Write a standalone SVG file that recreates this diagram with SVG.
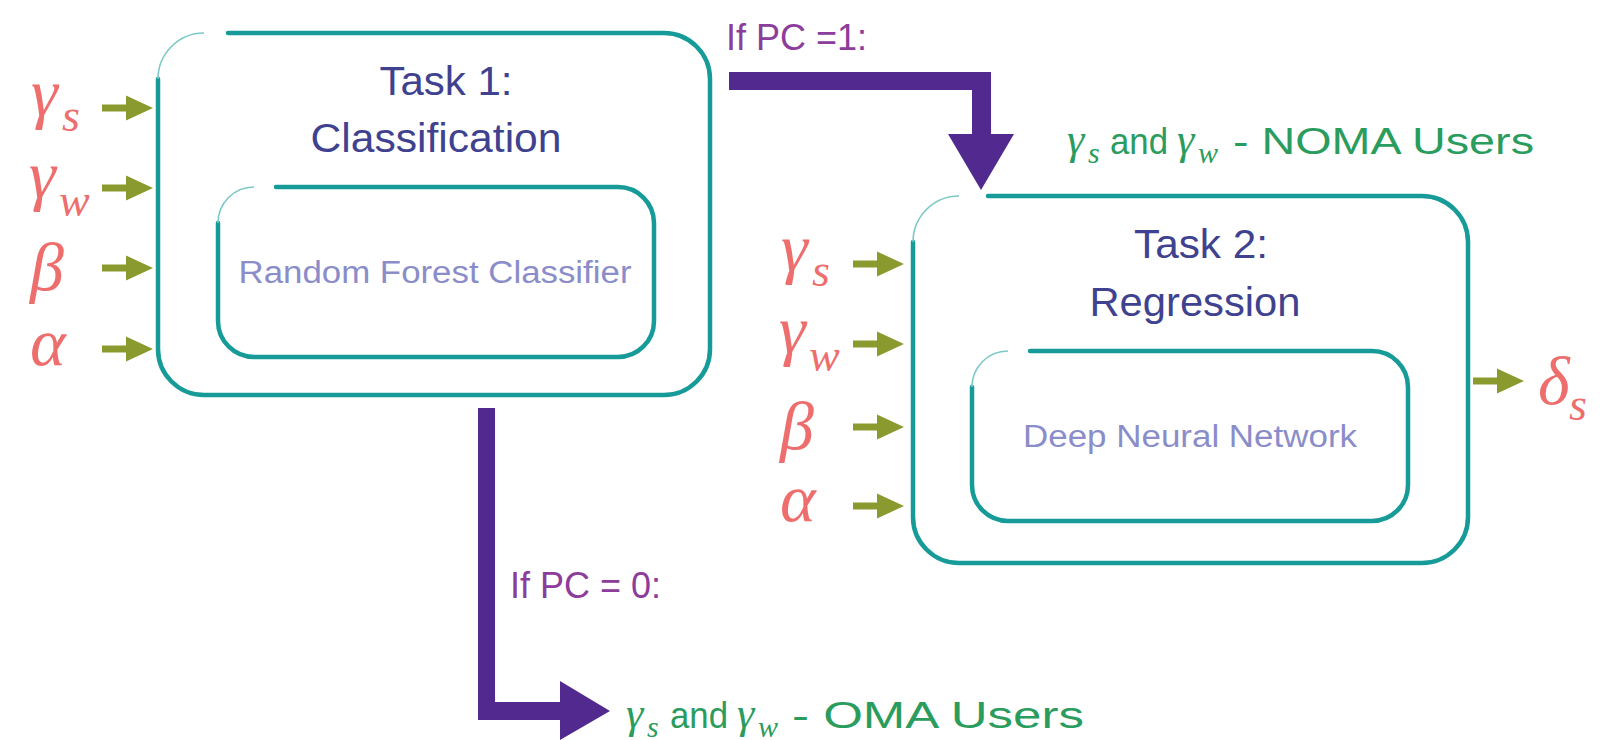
<svg xmlns="http://www.w3.org/2000/svg" xmlns:xlink="http://www.w3.org/1999/xlink" width="1608" height="740" viewBox="0 0 1608 740">
<style>
.box{fill:none;stroke:#169b99;stroke-width:4.5;stroke-linecap:round}
.fade{fill:none;stroke:#7cc9c6;stroke-width:1.6}
.title{font-family:"Liberation Sans",Arial,sans-serif;font-size:40px;fill:#3f428f;text-anchor:middle}
.inner{font-family:"Liberation Sans",Arial,sans-serif;font-size:31px;fill:#8a8dc9;text-anchor:middle}
.gk{font-family:"Liberation Serif","DejaVu Serif","Times New Roman",serif;font-style:italic;font-size:68px;fill:#ee6e6e}
.gks{font-family:"Liberation Serif","DejaVu Serif","Times New Roman",serif;font-style:italic;font-size:46px;fill:#ee6e6e}
.pc{font-family:"Liberation Sans",Arial,sans-serif;font-size:36px;fill:#8c3d9c}
.grn{font-family:"Liberation Sans",Arial,sans-serif;font-size:36px;fill:#2a9c5e}
.grk{font-family:"Liberation Serif","DejaVu Serif","Times New Roman",serif;font-style:italic;font-size:44px;fill:#2a9c5e}
.grks{font-family:"Liberation Serif","DejaVu Serif","Times New Roman",serif;font-style:italic;font-size:30px;fill:#2a9c5e}
.oa{fill:#8b9a2f}
.pa{fill:#52298e}
</style>
<defs>
<path id="oarrow" class="oa" d="M0,-3.5 H24 V-12.5 L51,0 L24,12.5 V3.5 H0 Z"/>
</defs>
<rect width="1608" height="740" fill="#ffffff"/>

<g id="task1">
<path class="box" d="M228,33 H664 A46 46 0 0 1 710,79 V349 A46 46 0 0 1 664,395 H204 A46 46 0 0 1 158,349 V79"/>
<path class="fade" d="M158,79 A46 46 0 0 1 204,33"/>
<text class="title" x="446" y="95" textLength="133" lengthAdjust="spacingAndGlyphs">Task 1:</text>
<text class="title" x="436" y="152" textLength="251" lengthAdjust="spacingAndGlyphs">Classification</text>
</g>
<g id="rfc">
<path class="box" d="M276,187 H618 A36 36 0 0 1 654,223 V321 A36 36 0 0 1 618,357 H254 A36 36 0 0 1 218,321 V223"/>
<path class="fade" d="M218,223 A36 36 0 0 1 254,187"/>
<text class="inner" x="435" y="283" textLength="393" lengthAdjust="spacingAndGlyphs">Random Forest Classifier</text>
</g>

<g id="task2">
<path class="box" d="M988,196 H1422 A46 46 0 0 1 1468,242 V517 A46 46 0 0 1 1422,563 H959 A46 46 0 0 1 913,517 V242"/>
<path class="fade" d="M913,242 A46 46 0 0 1 959,196"/>
<text class="title" x="1201" y="258" textLength="134" lengthAdjust="spacingAndGlyphs">Task 2:</text>
<text class="title" x="1195" y="316" textLength="211" lengthAdjust="spacingAndGlyphs">Regression</text>
</g>
<g id="dnn">
<path class="box" d="M1030,351 H1372 A36 36 0 0 1 1408,387 V485 A36 36 0 0 1 1372,521 H1008 A36 36 0 0 1 972,485 V387"/>
<path class="fade" d="M972,387 A36 36 0 0 1 1008,351"/>
<text class="inner" x="1190" y="447" textLength="334" lengthAdjust="spacingAndGlyphs">Deep Neural Network</text>
</g>

<g id="inputs1">
<text class="gk" x="31" y="116">γ</text><text class="gks" x="62" y="131">s</text>
<text class="gk" x="29" y="198">γ</text><text class="gks" x="59" y="216">w</text>
<text class="gk" x="30" y="290">β</text>
<text class="gk" x="30" y="365">α</text>
</g>
<g id="inputs2">
<text class="gk" x="781" y="271">γ</text><text class="gks" x="812" y="286">s</text>
<text class="gk" x="779" y="353">γ</text><text class="gks" x="809" y="371">w</text>
<text class="gk" x="780" y="449">β</text>
<text class="gk" x="780" y="521">α</text>
</g>
<g id="output">
<text class="gk" x="1538" y="404">δ</text><text class="gks" x="1569" y="420">s</text>
</g>

<g id="connectors">
<use xlink:href="#oarrow" x="102" y="108"/>
<use xlink:href="#oarrow" x="102" y="188"/>
<use xlink:href="#oarrow" x="102" y="268"/>
<use xlink:href="#oarrow" x="102" y="349"/>
<use xlink:href="#oarrow" x="853" y="264"/>
<use xlink:href="#oarrow" x="853" y="344"/>
<use xlink:href="#oarrow" x="853" y="427"/>
<use xlink:href="#oarrow" x="853" y="506"/>
<use xlink:href="#oarrow" x="1473" y="381"/>
<path class="pa" d="M729,72 H991 V134 H1014 L981,190 L948,134 H972 V90 H729 Z"/>
<path class="pa" d="M478,408 H495 V702 H560 V681 L610,711 L560,740 V720 H478 Z"/>
</g>

<g id="labels">
<text class="pc" x="726" y="50">If PC =1:</text>
<text class="pc" x="510" y="598">If PC = 0:</text>
<text class="grk" x="1067" y="154">γ</text><text class="grks" x="1088" y="163">s</text>
<text class="grn" x="1110" y="154" textLength="58" lengthAdjust="spacingAndGlyphs">and</text>
<text class="grk" x="1177" y="154">γ</text><text class="grks" x="1198" y="163">w</text>
<text class="grn" x="1233" y="154" textLength="301" lengthAdjust="spacingAndGlyphs">- NOMA Users</text>
<text class="grk" x="626" y="728">γ</text><text class="grks" x="647" y="737">s</text>
<text class="grn" x="670" y="728" textLength="58" lengthAdjust="spacingAndGlyphs">and</text>
<text class="grk" x="737" y="728">γ</text><text class="grks" x="758" y="737">w</text>
<text class="grn" x="792" y="728" textLength="292" lengthAdjust="spacingAndGlyphs">- OMA Users</text>
</g>
</svg>
